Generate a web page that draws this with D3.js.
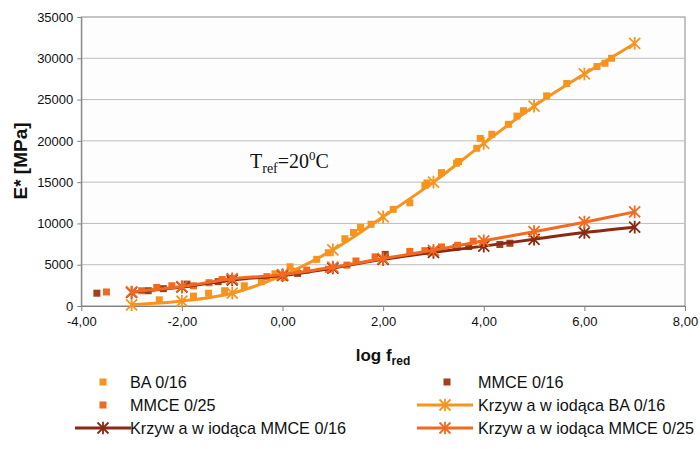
<!DOCTYPE html>
<html>
<head>
<meta charset="utf-8">
<script src="https://cdn.jsdelivr.net/npm/d3@7"></script>
<style>
  body { margin: 0; background: #ffffff; }
  svg text { font-family: Arial, "Liberation Sans", sans-serif; fill: #111; }
</style>
</head>
<body>
<svg id="chart" width="700" height="449"></svg>
<script>
// Axis ticks
const xTicks = [-4, -2, 0, 2, 4, 6, 8];
const yTicks = [0, 5000, 10000, 15000, 20000, 25000, 30000, 35000];

// Master curves (fitted), evaluated at integer log f_red
const curveX = [-3, -2, -1, 0, 1, 2, 3, 4, 5, 6, 7];
const curveBA = [150, 600, 1550, 3700, 6800, 10800, 15000, 19700, 24200, 28100, 31800];
const curveMMCE16 = [1650, 2300, 3150, 3700, 4600, 5650, 6500, 7250, 8080, 8900, 9550];
const curveMMCE25 = [1700, 2350, 3300, 3800, 4700, 5750, 6750, 7900, 9000, 10150, 11400];

// Measured points: [log f_red, E*]
const pointsBA = [
  [-2.45, 750], [-1.77, 1200], [-1.47, 1550], [-1.15, 1850], [-0.76, 2450], [-0.42, 2950],
  [-0.15, 3900], [0.03, 3450], [0.15, 4750], [0.68, 5650], [0.91, 6450], [1.24, 8150],
  [1.41, 8900], [1.55, 9500], [1.76, 9900], [2.20, 11700], [2.53, 12500], [2.83, 14600],
  [2.87, 14900], [3.16, 16150], [3.46, 17300], [3.50, 17500], [3.86, 19100], [3.93, 20300],
  [4.16, 20800], [4.49, 22000], [4.66, 23000], [4.79, 23650], [5.25, 25450], [5.65, 26950],
  [6.25, 29000], [6.41, 29400], [6.54, 30000]
];
const pointsMMCE16 = [
  [-3.69, 1550], [-2.67, 1850], [-2.37, 2100], [-1.90, 2650], [-1.28, 2950], [-1.04, 3300],
  [0.30, 3950], [2.04, 6250], [2.95, 6550], [3.45, 7100], [3.70, 7200], [4.32, 7450], [4.52, 7600]
];
const pointsMMCE25 = [
  [-3.50, 1700], [-2.80, 1850], [-2.50, 2250], [-2.20, 2450], [-1.77, 2450], [-1.46, 2820],
  [-1.20, 3200], [-0.31, 3550], [0.28, 4200], [0.48, 4350], [0.91, 4450], [1.28, 4950],
  [1.46, 5450], [1.84, 5950], [2.53, 6600], [2.83, 6700], [3.16, 7150], [3.48, 7350], [3.79, 7850]
];

const colBA = "#F7941E";
const colMMCE16 = "#A0411B";
const colMMCE25 = "#F26A21";
const colCurve16 = "#8A2A12";

const svg = d3.select("#chart");
const plot = { left: 81.3, right: 685, top: 17, bottom: 306 };

const x = d3.scaleLinear().domain([-4, 8]).range([plot.left, plot.right]);
const y = d3.scaleLinear().domain([0, 35000]).range([plot.bottom, plot.top]);

// Plot area background and frame
svg.append("rect")
  .attr("x", plot.left).attr("y", plot.top)
  .attr("width", plot.right - plot.left).attr("height", plot.bottom - plot.top)
  .attr("fill", "#fdfdfd").attr("stroke", "#8a8a8a").attr("stroke-width", 1);

// Horizontal gridlines
svg.append("g").selectAll("line")
  .data(yTicks.filter(d => d > 0 && d < 35000))
  .join("line")
  .attr("x1", plot.left).attr("x2", plot.right)
  .attr("y1", d => y(d)).attr("y2", d => y(d))
  .attr("stroke", "#bdbdbd").attr("stroke-width", 1);

// Axes
const xAxis = d3.axisBottom(x).tickValues(xTicks)
  .tickFormat(d => d3.format(".2f")(d).replace(".", ",").replace("−", "-"))
  .tickSize(5).tickSizeOuter(0);
const gx = svg.append("g").attr("transform", `translate(0,${plot.bottom})`).call(xAxis);
gx.select(".domain").attr("stroke", "#808080");
gx.selectAll(".tick line").attr("stroke", "#808080");
gx.selectAll(".tick text").attr("font-size", 13).attr("dy", "0.9em").attr("fill", "#111");

const yAxis = d3.axisLeft(y).tickValues(yTicks).tickFormat(d3.format("d"))
  .tickSize(4).tickSizeOuter(0);
const gy = svg.append("g").attr("transform", `translate(${plot.left},0)`).call(yAxis);
gy.select(".domain").attr("stroke", "#808080");
gy.selectAll(".tick line").attr("stroke", "#808080");
gy.selectAll(".tick text").attr("font-size", 13).attr("x", -8).attr("fill", "#111");

// Axis titles
svg.append("text")
  .attr("transform", `translate(27,161) rotate(-90)`)
  .attr("text-anchor", "middle").attr("font-size", 19).attr("font-weight", "bold")
  .text("E* [MPa]");

const xt = svg.append("text")
  .attr("x", 383).attr("y", 361).attr("text-anchor", "middle")
  .attr("font-size", 17).attr("font-weight", "bold");
xt.append("tspan").text("log f");
xt.append("tspan").attr("font-size", 12).attr("dy", 4).text("red");

// Reference temperature annotation
const tr = svg.append("text")
  .attr("x", 250).attr("y", 168)
  .style("font-family", "'Liberation Serif', 'Times New Roman', serif")
  .attr("font-size", 20);
tr.append("tspan").text("T");
tr.append("tspan").attr("font-size", 14).attr("dy", 5).text("ref");
tr.append("tspan").attr("dy", -5).text("=20");
tr.append("tspan").attr("font-size", 13).attr("dy", -8).text("0");
tr.append("tspan").attr("dy", 8).text("C");

// Measured points as squares
function squares(data, color) {
  svg.append("g").selectAll("rect")
    .data(data).join("rect")
    .attr("x", d => x(d[0]) - 3.5).attr("y", d => y(d[1]) - 3.5)
    .attr("width", 7).attr("height", 7)
    .attr("fill", color);
}
squares(pointsBA, colBA);
squares(pointsMMCE16, colMMCE16);
squares(pointsMMCE25, colMMCE25);

// Star marker (x plus vertical bar)
function starPath(r) {
  return `M${-r},${-r}L${r},${r}M${-r},${r}L${r},${-r}M0,${-r * 1.15}L0,${r * 1.15}`;
}

// Master curves with star markers
function masterCurve(values, color) {
  const pts = curveX.map((xv, i) => [xv, values[i]]);
  const line = d3.line().x(d => x(d[0])).y(d => y(d[1])).curve(d3.curveCatmullRom.alpha(0.5));
  svg.append("path").datum(pts)
    .attr("d", line).attr("fill", "none")
    .attr("stroke", color).attr("stroke-width", 3);
  svg.append("g").selectAll("path")
    .data(pts).join("path")
    .attr("transform", d => `translate(${x(d[0])},${y(d[1])})`)
    .attr("d", starPath(5.5))
    .attr("stroke", color).attr("stroke-width", 1.8).attr("fill", "none");
}
masterCurve(curveBA, colBA);
masterCurve(curveMMCE16, colCurve16);
masterCurve(curveMMCE25, colMMCE25);

// Legend
const legendItems = [
  { label: "BA 0/16", color: colBA, type: "square", lx: 103, tx: 130, ty: 382 },
  { label: "MMCE 0/16", color: colMMCE16, type: "square", lx: 447, tx: 478, ty: 382 },
  { label: "MMCE 0/25", color: colMMCE25, type: "square", lx: 103, tx: 130, ty: 405 },
  { label: "Krzyw a w iodąca BA 0/16", color: colBA, type: "line", lx: 445, tx: 478, ty: 405 },
  { label: "Krzyw a w iodąca MMCE 0/16", color: colCurve16, type: "line", lx: 103, tx: 130, ty: 428 },
  { label: "Krzyw a w iodąca MMCE 0/25", color: colMMCE25, type: "line", lx: 445, tx: 478, ty: 428 }
];
const lg = svg.append("g");
legendItems.forEach(it => {
  if (it.type === "square") {
    lg.append("rect").attr("x", it.lx - 3.5).attr("y", it.ty - 3.5)
      .attr("width", 7).attr("height", 7).attr("fill", it.color);
  } else {
    lg.append("line").attr("x1", it.lx - 28).attr("x2", it.lx + 28)
      .attr("y1", it.ty).attr("y2", it.ty)
      .attr("stroke", it.color).attr("stroke-width", 3);
    lg.append("path").attr("transform", `translate(${it.lx},${it.ty})`)
      .attr("d", starPath(5.5)).attr("stroke", it.color)
      .attr("stroke-width", 1.8).attr("fill", "none");
  }
  lg.append("text").attr("x", it.tx).attr("y", it.ty + 6)
    .attr("font-size", 16.2).text(it.label);
});
</script>
</body>
</html>
